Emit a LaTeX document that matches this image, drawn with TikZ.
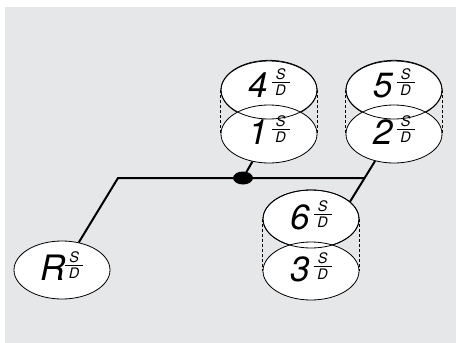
\documentclass[tikz,border=0pt]{standalone}
\usepackage{fontspec}
\setmainfont{TeX Gyre Heros}
\usetikzlibrary{shapes.geometric}
\definecolor{bg}{HTML}{E6E7E8}
\newcommand\sdfrac{\raisebox{1.5pt}{\itshape\fontsize{14.5}{14.5}\selectfont\vbox{\hsize=18pt\offinterlineskip\hbox to18pt{\hfil S\hfil}\kern2.2pt\hrule height0.7pt\kern2.2pt\hbox to18pt{\hfil D\hfil}}}}
\newcommand\disklab[3][0pt]{{\fontsize{35}{35}\selectfont\itshape #3}\hspace{#2}\sdfrac\hspace{#1}}
\begin{document}
\begin{tikzpicture}[x=1pt,y=-1pt,
  disk/.style={ellipse, draw, fill=white, line width=0.8pt, minimum width=96pt, minimum height=58pt, inner sep=0pt, text height=28pt, text depth=8pt},
  upper/.style={text depth=14pt},
  rim/.style={line width=0.8pt},
  link/.style={line width=2pt},
  guide/.style={line width=0.5pt, dash pattern=on 3pt off 2pt},
  junction/.style={ellipse, fill=black, minimum width=20pt, minimum height=13pt, inner sep=0pt}]
\useasboundingbox (0,0) rectangle (456,343);
\fill[bg] (5,7) rectangle (456,343);
% stacks
\node[disk, upper] (n4) at (269,90) {\disklab[6pt]{4pt}{4}};
\node[disk] (n1) at (269,134) {\disklab[6pt]{4pt}{1}};
\draw[rim] (n4.center) ellipse [x radius=48pt, y radius=29pt];
\draw[guide] (n4.west) -- (n1.west);
\draw[guide] (n4.east) -- (n1.east);
\node[disk, upper] (n5) at (394,90) {\disklab{4pt}{5}};
\node[disk] (n2) at (394,134) {\disklab[4pt]{4pt}{2}};
\draw[rim] (n5.center) ellipse [x radius=48pt, y radius=29pt];
\draw[guide] (n5.west) -- (n2.west);
\draw[guide] (n5.east) -- (n2.east);
\node[disk] (n6) at (311,219) {\disklab[13pt]{4pt}{6}};
\node[disk] (n3) at (311,271) {\disklab[15pt]{4pt}{3}};
\draw[rim] (n6.center) ellipse [x radius=48pt, y radius=29pt];
\draw[guide] (n6.west) -- (n3.west);
\draw[guide] (n6.east) -- (n3.east);
\node[disk] (R) at (62,270) {\disklab[20pt]{-1pt}{R}};
% connectors
\coordinate (j) at (118,178);
\coordinate (k) at (440,178);
\coordinate (a) at (n2.-125);
\coordinate (b) at (n6.24);
\coordinate (e) at (intersection of a--b and j--k);
\draw[link] (R) -- (j) -- (e);
\draw[link] (a) -- (b);
\node[junction] (dot) at (243,178) {};
\draw[link] (dot.center) -- (n1.-121);
\end{tikzpicture}
\end{document}
